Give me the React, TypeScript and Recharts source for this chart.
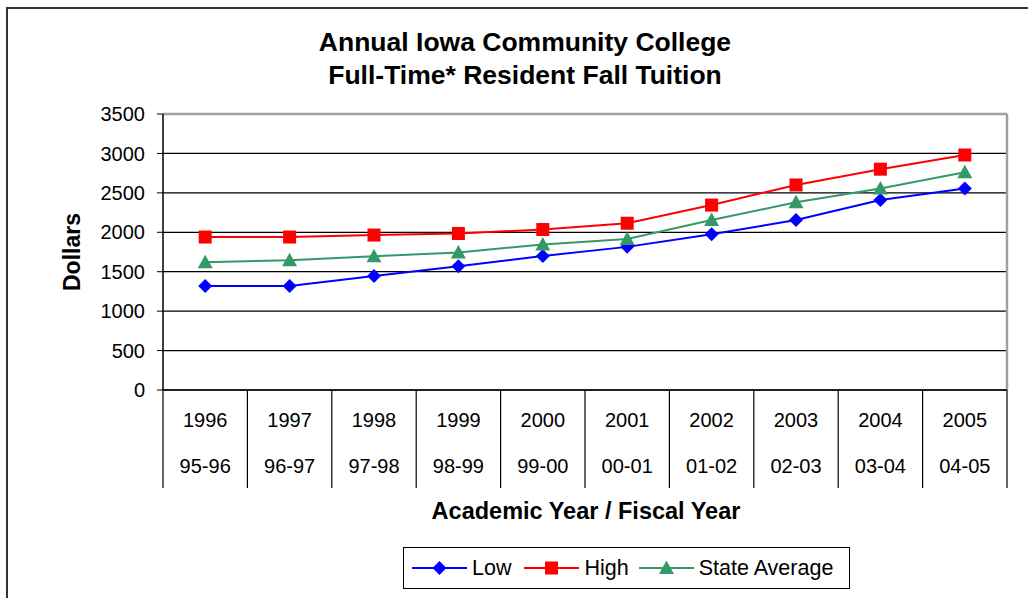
import React from 'react';
import { LineChart, Line, XAxis, YAxis, CartesianGrid, ReferenceLine } from 'recharts';

const years = ['1996', '1997', '1998', '1999', '2000', '2001', '2002', '2003', '2004', '2005'];
const fiscalYears = ['95-96', '96-97', '97-98', '98-99', '99-00', '00-01', '01-02', '02-03', '03-04', '04-05'];
const lowValues = [1320, 1320, 1445, 1570, 1700, 1815, 1975, 2155, 2410, 2555];
const highValues = [1940, 1940, 1965, 1985, 2035, 2115, 2345, 2600, 2800, 2980];
const stateAverage = [1620, 1645, 1695, 1745, 1845, 1915, 2155, 2380, 2555, 2760];
const yTicks = [0, 500, 1000, 1500, 2000, 2500, 3000, 3500];

const FONT = '"Liberation Sans", Arial, sans-serif';
const W = 1028;
const H = 598;
const MARGIN = { top: 114, right: 21, left: 83, bottom: 108 };
const Y_AXIS_W = 80;
const BAND = (W - MARGIN.left - Y_AXIS_W - MARGIN.right) / years.length;

const BLUE = '#0000ff';
const RED = '#ff0000';
const GREEN = '#339966';
const FRAME = '#a0a0a0';

const data = years.map((year, i) => ({
  year,
  low: lowValues[i],
  high: highValues[i],
  avg: stateAverage[i],
}));

const Diamond = ({ cx, cy, color, r = 7 }: any) => (
  <path d={`M${cx},${cy - r}L${cx + r},${cy}L${cx},${cy + r}L${cx - r},${cy}Z`} fill={color} />
);
const Square = ({ cx, cy, color, r = 6.5 }: any) => (
  <rect x={cx - r} y={cy - r} width={r * 2} height={r * 2} fill={color} />
);
const Triangle = ({ cx, cy, color, r = 7.5 }: any) => (
  <path d={`M${cx},${cy - r}L${cx + r},${cy + r * 0.8}L${cx - r},${cy + r * 0.8}Z`} fill={color} />
);

const CategoryTick = (props: any) => {
  const { x, y, payload, index } = props;
  const half = BAND / 2;
  return (
    <g>
      <line x1={x - half} y1={y} x2={x - half} y2={y + 98} stroke="#000" strokeWidth={1.2} />
      {index === years.length - 1 && (
        <line x1={x + half} y1={y} x2={x + half} y2={y + 98} stroke="#000" strokeWidth={1.2} />
      )}
      <text x={x} y={y + 37} textAnchor="middle" fontSize={20} fontFamily={FONT} fill="#000">
        {payload.value}
      </text>
      <text x={x} y={y + 83} textAnchor="middle" fontSize={20} fontFamily={FONT} fill="#000">
        {fiscalYears[index]}
      </text>
    </g>
  );
};

const LegendItem = ({ label, color, Marker, gap }: any) => (
  <div style={{ display: 'flex', alignItems: 'center', marginRight: gap }}>
    <svg width={55} height={18} style={{ marginRight: 5 }}>
      <line x1={0} y1={9} x2={55} y2={9} stroke={color} strokeWidth={2} />
      <Marker cx={27.5} cy={9} color={color} />
    </svg>
    <span>{label}</span>
  </div>
);

const App: React.FC = () => {
  return (
    <div style={{ position: 'absolute', left: 0, top: 0, width: W, height: H, overflow: 'hidden', background: '#fff', fontFamily: FONT }}>
      <div style={{ position: 'absolute', left: 6, top: 7, width: W + 20, height: H + 20, borderLeft: '2px solid #333', borderTop: '2px solid #333' }} />
      <div style={{ position: 'absolute', left: 225, width: 600, top: 26, textAlign: 'center', fontWeight: 'bold', fontSize: 26.5, lineHeight: '33px', color: '#000' }}>
        Annual Iowa Community College
        <br />
        Full-Time* Resident Fall Tuition
      </div>
      <div style={{ position: 'absolute', left: 72, top: 252, transform: 'translate(-50%, -50%) rotate(-90deg)', fontWeight: 'bold', fontSize: 23, whiteSpace: 'nowrap' }}>
        Dollars
      </div>
      <div style={{ position: 'absolute', left: 286, width: 600, top: 498, textAlign: 'center', fontWeight: 'bold', fontSize: 23.5 }}>
        Academic Year / Fiscal Year
      </div>
      <LineChart width={W} height={H} data={data} margin={MARGIN} style={{ position: 'absolute', left: 0, top: 0 }}>
        <CartesianGrid vertical={false} stroke="#000" strokeWidth={1.2} />
        <CartesianGrid
          horizontal={false}
          stroke={FRAME}
          strokeWidth={2.5}
          verticalCoordinatesGenerator={({ offset }: any) => [offset.left + offset.width]}
        />
        <XAxis
          dataKey="year"
          interval={0}
          height={100}
          padding={{ left: BAND / 2, right: BAND / 2 }}
          tickSize={0}
          tickMargin={0}
          tickLine={false}
          axisLine={{ stroke: '#000', strokeWidth: 1.5 }}
          tick={<CategoryTick />}
        />
        <YAxis
          width={Y_AXIS_W}
          domain={[0, 3500]}
          ticks={yTicks}
          interval={0}
          tickSize={6}
          tickMargin={12}
          tick={{ fontSize: 20, fill: '#000', fontFamily: FONT }}
          tickLine={{ stroke: '#000' }}
          axisLine={{ stroke: '#000', strokeWidth: 1.5 }}
        />
        <ReferenceLine y={3500} stroke={FRAME} strokeWidth={2.5} />
        <Line
          dataKey="low"
          name="Low"
          stroke={BLUE}
          strokeWidth={2}
          isAnimationActive={false}
          dot={(p: any) => <Diamond key={`l${p.index}`} cx={p.cx} cy={p.cy} color={BLUE} />}
        />
        <Line
          dataKey="high"
          name="High"
          stroke={RED}
          strokeWidth={2}
          isAnimationActive={false}
          dot={(p: any) => <Square key={`h${p.index}`} cx={p.cx} cy={p.cy} color={RED} />}
        />
        <Line
          dataKey="avg"
          name="State Average"
          stroke={GREEN}
          strokeWidth={2}
          isAnimationActive={false}
          dot={(p: any) => <Triangle key={`a${p.index}`} cx={p.cx} cy={p.cy} color={GREEN} />}
        />
      </LineChart>
      <div style={{ position: 'absolute', left: 403, top: 547, width: 437, height: 40, border: '1px solid #000', display: 'flex', alignItems: 'center', paddingLeft: 8, boxSizing: 'content-box', fontSize: 21.5, color: '#000' }}>
        <LegendItem label="Low" color={BLUE} Marker={Diamond} gap={13} />
        <LegendItem label="High" color={RED} Marker={Square} gap={10} />
        <LegendItem label="State Average" color={GREEN} Marker={Triangle} gap={0} />
      </div>
    </div>
  );
};

export default App;
